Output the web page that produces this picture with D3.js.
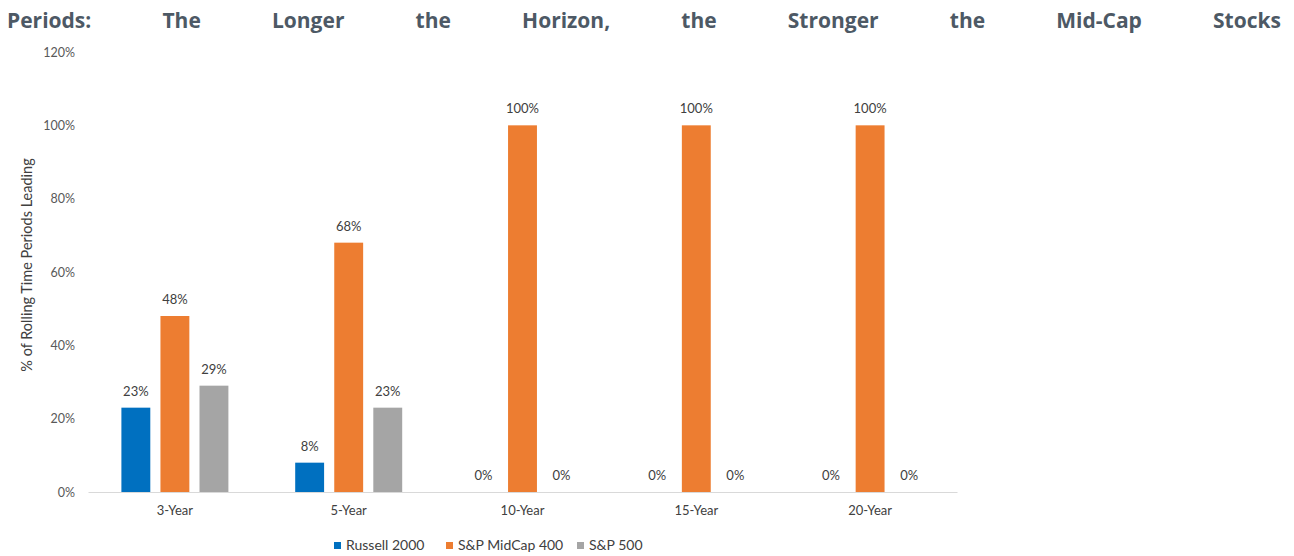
<!DOCTYPE html>
<html>
<head>
<meta charset="utf-8">
<script src="https://cdn.jsdelivr.net/npm/d3@7"></script>
<style>
  body { margin: 0; background: #fff; }
  svg { display: block; }
</style>
</head>
<body>
<svg id="chart" width="1294" height="556"></svg>
<script>
// data
var categories = ['3-Year', '5-Year', '10-Year', '15-Year', '20-Year'];
var seriesNames = ['Russell 2000', 'S&P MidCap 400', 'S&P 500'];
var russell = [23, 8, 0, 0, 0];
var midcap = [48, 68, 100, 100, 100];
var sp500 = [29, 23, 0, 0, 0];
var yTicks = [0, 20, 40, 60, 80, 100, 120];
var titleWords = ['Periods:', 'The', 'Longer', 'the', 'Horizon,', 'the', 'Stronger', 'the', 'Mid-Cap', 'Stocks'];

var colors = ['#0070c0', '#ed7d31', '#a5a5a5'];
var font = 'Lato, "Open Sans", sans-serif';

var svg = d3.select('#chart');

// title, justified across the width
var titleG = svg.append('g').attr('class', 'title');
var words = titleG.selectAll('text')
  .data(titleWords)
  .enter()
  .append('text')
    .attr('y', 28)
    .attr('font-family', '"Open Sans", sans-serif')
    .attr('font-weight', 'bold')
    .attr('font-size', 21)
    .attr('fill', '#4d5965')
    .text(function(d) { return d; });

var widths = [];
words.each(function() { widths.push(this.getComputedTextLength()); });
var totalW = d3.sum(widths);
var left = 7, right = 1281;
var gap = (right - left - totalW) / (titleWords.length - 1);
var cx = left;
words.attr('x', function(d, i) {
  var x = cx;
  cx += widths[i] + gap;
  return x;
});

// scales
var x = d3.scaleBand()
  .domain(categories)
  .range([88, 957]);

var xInner = d3.scaleBand()
  .domain(seriesNames)
  .range([0, 107])
  .paddingInner(0.26);

var y = d3.scaleLinear()
  .domain([0, 120])
  .range([492, 52]);

// y axis
var axisY = d3.axisLeft(y)
  .tickValues(yTicks)
  .tickFormat(function(d) { return d + '%'; })
  .tickSize(0)
  .tickPadding(13);

var gy = svg.append('g')
  .attr('transform', 'translate(88,0)')
  .call(axisY);
gy.select('.domain').remove();
gy.selectAll('text')
  .attr('font-family', font)
  .attr('font-size', 12.5)
  .attr('fill', '#595959');

// x axis
var axisX = d3.axisBottom(x)
  .tickSize(0)
  .tickPadding(14);

var gx = svg.append('g')
  .attr('transform', 'translate(0,492)')
  .call(axisX);
gx.select('.domain').attr('stroke', '#d9d9d9').attr('stroke-width', 1);
gx.selectAll('text')
  .attr('font-family', font)
  .attr('font-size', 13)
  .attr('fill', '#404040');

// y axis title
svg.append('text')
  .attr('transform', 'translate(32,265) rotate(-90)')
  .attr('text-anchor', 'middle')
  .attr('font-family', font)
  .attr('font-size', 14.5)
  .attr('fill', '#404040')
  .text('% of Rolling Time Periods Leading');

// bars
var allSeries = [russell, midcap, sp500];
var rows = [];
categories.forEach(function(c, ci) {
  seriesNames.forEach(function(s, si) {
    rows.push({ cat: c, series: s, idx: si, value: allSeries[si][ci] });
  });
});

var groupOffset = (x.bandwidth() - 107) / 2;

svg.append('g')
  .selectAll('rect')
  .data(rows)
  .enter()
  .append('rect')
    .attr('x', function(d) { return x(d.cat) + groupOffset + xInner(d.series); })
    .attr('y', function(d) { return y(d.value); })
    .attr('width', xInner.bandwidth())
    .attr('height', function(d) { return y(0) - y(d.value); })
    .attr('fill', function(d) { return colors[d.idx]; });

// data labels
svg.append('g')
  .selectAll('text')
  .data(rows)
  .enter()
  .append('text')
    .attr('x', function(d) { return x(d.cat) + groupOffset + xInner(d.series) + xInner.bandwidth() / 2; })
    .attr('y', function(d) { return y(d.value) - 12; })
    .attr('text-anchor', 'middle')
    .attr('font-family', font)
    .attr('font-size', 13)
    .attr('fill', '#404040')
    .text(function(d) { return d.value + '%'; });

// legend
var legendX = [334, 446, 577];
var legend = svg.append('g')
  .selectAll('g')
  .data(seriesNames)
  .enter()
  .append('g')
    .attr('transform', function(d, i) { return 'translate(' + legendX[i] + ',542)'; });

legend.append('rect')
  .attr('width', 7)
  .attr('height', 7)
  .attr('fill', function(d, i) { return colors[i]; });

legend.append('text')
  .attr('x', 12)
  .attr('y', 8)
  .attr('font-family', font)
  .attr('font-size', 14)
  .attr('fill', '#404040')
  .text(function(d) { return d; });
</script>
</body>
</html>
